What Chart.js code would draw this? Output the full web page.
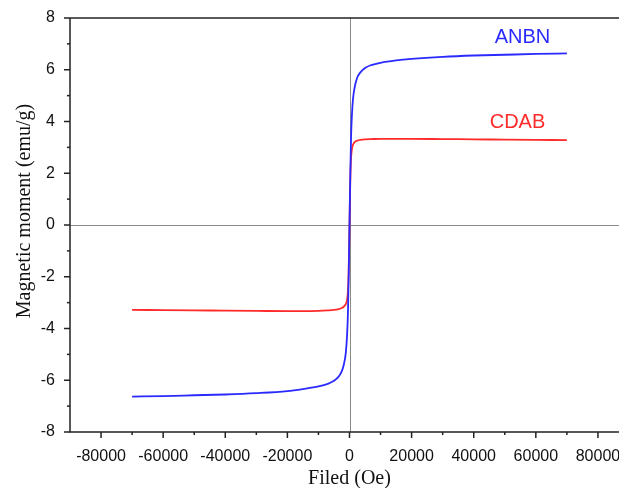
<!DOCTYPE html>
<html><head><meta charset="utf-8">
<script src="https://cdn.jsdelivr.net/npm/chart.js@4"></script>
<style>html,body{margin:0;padding:0;overflow:hidden;background:#fff;width:619px;height:488px}#wrap{width:640px;height:488px}</style>
</head><body><div id="wrap"><canvas id="c" width="640" height="488"></canvas></div>
<script>
const fieldOe = [-70000,-60000,-50000,-40000,-30000,-20000,-15000,-10000,-7000,-5000,-3500,-2500,-1800,-1200,-800,-500,-250,0,250,500,800,1200,1800,2500,3500,5000,7000,10000,15000,20000,30000,40000,50000,60000,70000];
const anbnMoment = [-6.63,-6.61,-6.58,-6.55,-6.50,-6.42,-6.34,-6.24,-6.14,-6.02,-5.86,-5.66,-5.38,-4.95,-4.3,-3.4,-1.9,0,1.9,3.4,4.3,4.95,5.40,5.70,5.90,6.07,6.18,6.27,6.36,6.42,6.50,6.55,6.58,6.61,6.63];
const cdabMoment = [-3.28,-3.29,-3.30,-3.31,-3.32,-3.33,-3.33,-3.32,-3.30,-3.28,-3.25,-3.21,-3.15,-3.06,-2.9,-2.55,-1.7,0,1.7,2.6,2.95,3.12,3.22,3.26,3.29,3.31,3.32,3.33,3.33,3.33,3.32,3.31,3.30,3.29,3.28];
const xTicks = [-80000,-60000,-40000,-20000,0,20000,40000,60000,80000];
const yTicks = [-8,-6,-4,-2,0,2,4,6,8];
const seriesNames = ['ANBN','CDAB'];
const labelPos = [{x:55700,y:7.24},{x:54100,y:3.95}];
const colors = ['#2a2aff','#ff2a2a'];
const xTitle = 'Filed (Oe)';
const yTitle = 'Magnetic moment (emu/g)';

const toPts = arr => fieldOe.map((f,i)=>({x:f,y:arr[i]}));

const decor = {
  id:'decor',
  beforeDatasetsDraw(chart){
    const {ctx, chartArea:a, scales:{x,y}} = chart;
    ctx.save();
    ctx.strokeStyle='#8a8a8a'; ctx.lineWidth=1;
    const x0=Math.round(x.getPixelForValue(0))+0.5, y0=Math.round(y.getPixelForValue(0))+0.5;
    ctx.beginPath(); ctx.moveTo(x0,a.top); ctx.lineTo(x0,a.bottom); ctx.stroke();
    ctx.beginPath(); ctx.moveTo(a.left,y0); ctx.lineTo(a.right,y0); ctx.stroke();
    ctx.restore();
  },
  afterDatasetsDraw(chart){
    const {ctx, chartArea:a, scales:{x,y}} = chart;
    ctx.save();
    ctx.strokeStyle='#222'; ctx.lineWidth=1.5;
    ctx.beginPath(); ctx.moveTo(a.left,a.top); ctx.lineTo(a.left,a.bottom); ctx.lineTo(a.right,a.bottom); ctx.stroke();
    ctx.beginPath(); ctx.moveTo(a.left,a.top); ctx.lineTo(a.right,a.top); ctx.stroke();
    xTicks.forEach(v=>{const p=x.getPixelForValue(v); ctx.beginPath(); ctx.moveTo(p,a.bottom); ctx.lineTo(p,a.bottom+6); ctx.stroke();});
    yTicks.forEach(v=>{const p=y.getPixelForValue(v); ctx.beginPath(); ctx.moveTo(a.left,p); ctx.lineTo(a.left-6,p); ctx.stroke();});
    for(let i=0;i<xTicks.length-1;i++){const v=(xTicks[i]+xTicks[i+1])/2; const p=x.getPixelForValue(v); ctx.beginPath(); ctx.moveTo(p,a.bottom); ctx.lineTo(p,a.bottom+3); ctx.stroke();}
    for(let i=0;i<yTicks.length-1;i++){const v=(yTicks[i]+yTicks[i+1])/2; const p=y.getPixelForValue(v); ctx.beginPath(); ctx.moveTo(a.left,p); ctx.lineTo(a.left-3,p); ctx.stroke();}
    ctx.font='20px "Liberation Sans", Arial, sans-serif';
    ctx.textAlign='center'; ctx.textBaseline='middle';
    seriesNames.forEach((n,i)=>{ctx.fillStyle=colors[i]; ctx.fillText(n, x.getPixelForValue(labelPos[i].x), y.getPixelForValue(labelPos[i].y));});
    // y axis title
    ctx.fillStyle='#111';
    ctx.font='20px "Liberation Serif", "Times New Roman", serif';
    ctx.translate(25, 211); ctx.rotate(-Math.PI/2);
    ctx.fillText(yTitle, 0, 0);
    ctx.restore();
  }
};

new Chart(document.getElementById('c'), {
  type:'scatter',
  data:{datasets:[
    {label:seriesNames[0], data:toPts(anbnMoment), showLine:true, borderColor:colors[0], borderWidth:1.8, pointRadius:0, cubicInterpolationMode:'monotone'},
    {label:seriesNames[1], data:toPts(cdabMoment), showLine:true, borderColor:colors[1], borderWidth:1.8, pointRadius:0, cubicInterpolationMode:'monotone'}
  ]},
  options:{
    responsive:false, animation:false, events:[],
    layout:{padding:{top:18,right:11,left:0,bottom:0}},
    plugins:{legend:{display:false},tooltip:{enabled:false}},
    scales:{
      x:{type:'linear', min:-90000, max:90000,
        afterBuildTicks:s=>{s.ticks=xTicks.map(v=>({value:v}));},
        afterFit:s=>{s.height=56;},
        grid:{display:false}, border:{display:false},
        ticks:{color:'#111', font:{family:'"Liberation Sans", Arial, sans-serif', size:16}, padding:7, maxRotation:0, callback:v=>String(v)},
        title:{display:true, text:xTitle, color:'#111', font:{family:'"Liberation Serif", "Times New Roman", serif', size:20, lineHeight:0.9}, padding:{top:0,bottom:0}}
      },
      y:{type:'linear', min:-8, max:8,
        afterBuildTicks:s=>{s.ticks=yTicks.map(v=>({value:v}));},
        afterFit:s=>{s.width=70;},
        grid:{display:false}, border:{display:false},
        ticks:{color:'#111', font:{family:'"Liberation Sans", Arial, sans-serif', size:16}, padding:7, callback:v=>String(v)},
        title:{display:false}
      }
    }
  },
  plugins:[decor]
});
</script></body></html>
